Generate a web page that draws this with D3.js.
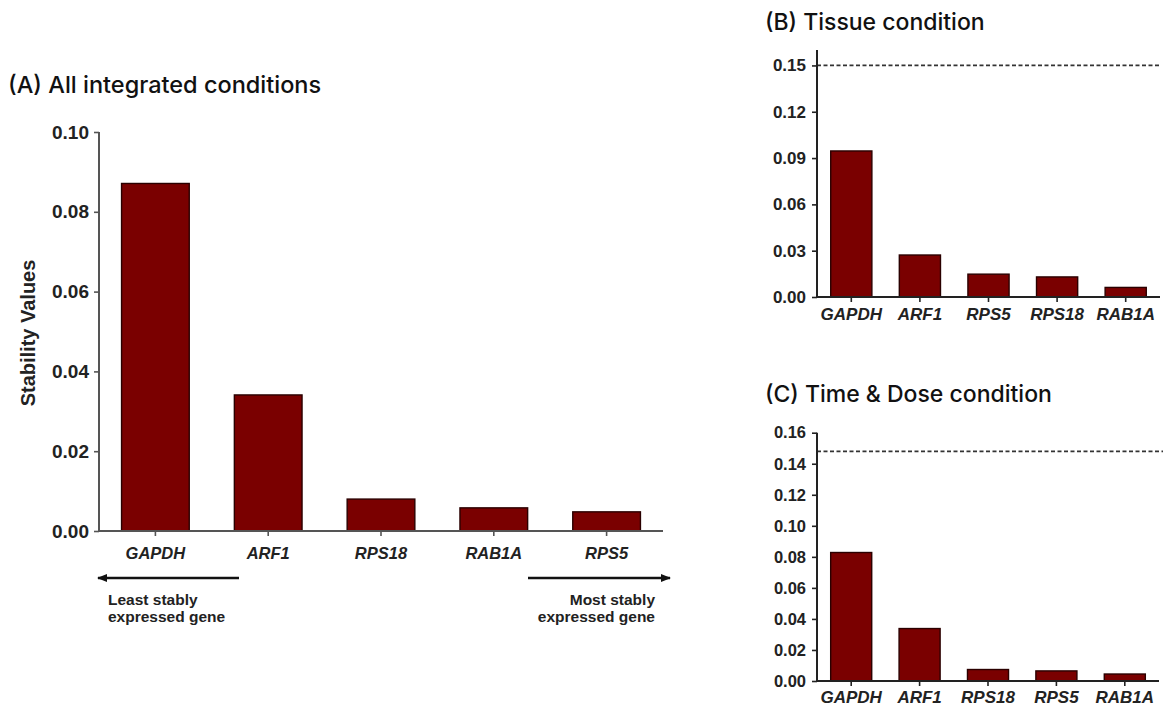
<!DOCTYPE html>
<html>
<head>
<meta charset="utf-8">
<script src="https://cdn.jsdelivr.net/npm/d3@7"></script>
<style>
  html, body { margin: 0; padding: 0; background: #fff; }
  svg { display: block; }
  .title { font-family: Inter, "Liberation Sans", Arial, sans-serif; font-weight: 500; fill: #111; }
  .tick text { font-family: "Liberation Sans", Arial, sans-serif; font-weight: 700; fill: #222; }
  .gene { font-family: "Liberation Sans", Arial, sans-serif; font-weight: 700; font-style: italic; fill: #222; }
  .note { font-family: "Liberation Sans", Arial, sans-serif; font-weight: 700; fill: #222; }
</style>
</head>
<body>
<svg id="fig" width="1165" height="709"></svg>
<script>
// Stability values per reference gene
const genesA = ["GAPDH", "ARF1", "RPS18", "RAB1A", "RPS5"];
const valuesA = [0.0871, 0.0341, 0.0080, 0.0058, 0.0048];
const ticksA = [0.00, 0.02, 0.04, 0.06, 0.08, 0.10];

const genesB = ["GAPDH", "ARF1", "RPS5", "RPS18", "RAB1A"];
const valuesB = [0.0946, 0.0272, 0.0148, 0.0130, 0.0062];
const ticksB = [0.00, 0.03, 0.06, 0.09, 0.12, 0.15];
const cutoffB = 0.15;

const genesC = ["GAPDH", "ARF1", "RPS18", "RPS5", "RAB1A"];
const valuesC = [0.0828, 0.0338, 0.0074, 0.0065, 0.0045];
const ticksC = [0.00, 0.02, 0.04, 0.06, 0.08, 0.10, 0.12, 0.14, 0.16];
const cutoffC = 0.148;

const svg = d3.select("#fig");
const fmt = d3.format(".2f");
const BAR_FILL = "#7a0000";
const BAR_STROKE = "#2a0000";

function panel(o) {
  const g = svg.append("g");
  const x = d3.scaleBand().domain(o.genes).range([o.x0, o.x1])
    .paddingInner(0.4).paddingOuter(0.2);
  const y = d3.scaleLinear().domain([0, o.ymax]).range([o.y0, o.y1]);

  // title
  g.append("text").attr("class", "title")
    .attr("x", o.titleX).attr("y", o.titleY)
    .style("font-size", o.titleSize + "px")
    .text(o.title);

  // cut-off line
  if (o.cutoff != null) {
    g.append("line")
      .attr("x1", o.x0).attr("x2", o.dashEnd)
      .attr("y1", y(o.cutoff)).attr("y2", y(o.cutoff))
      .attr("stroke", "#333").attr("stroke-width", 1.8)
      .attr("stroke-dasharray", "4,2.5");
  }

  // bars
  g.selectAll("rect.bar").data(o.values).join("rect")
    .attr("class", "bar")
    .attr("x", (d, i) => x(o.genes[i]))
    .attr("width", x.bandwidth())
    .attr("y", d => y(d))
    .attr("height", d => y(0) - y(d))
    .attr("fill", BAR_FILL)
    .attr("stroke", BAR_STROKE)
    .attr("stroke-width", 1.4);

  // y axis
  const ya = g.append("g").attr("transform", `translate(${o.x0},0)`)
    .call(d3.axisLeft(y).tickValues(o.ticks).tickFormat(fmt).tickSize(5).tickPadding(o.tickPad));
  ya.select(".domain").attr("d", `M0,${o.y1}V${o.y0}`)
    .attr("stroke", o.axisColor).attr("stroke-width", 2);
  ya.selectAll(".tick line").attr("stroke", o.axisColor).attr("stroke-width", 1.6);
  ya.selectAll(".tick text").style("font-size", o.tickSize + "px");

  // x axis
  const xa = g.append("g").attr("transform", `translate(0,${o.y0})`)
    .call(d3.axisBottom(x).tickSize(5).tickFormat(""));
  xa.select(".domain").attr("d", `M${o.x0},0H${o.x1}`)
    .attr("stroke", o.axisColor).attr("stroke-width", 2);
  xa.selectAll(".tick line").attr("stroke", o.axisColor).attr("stroke-width", 1.6);

  g.selectAll("text.gene").data(o.genes).join("text")
    .attr("class", "gene")
    .attr("x", d => x(d) + x.bandwidth() / 2)
    .attr("y", o.labelY)
    .attr("text-anchor", "middle")
    .style("font-size", o.labelSize + "px")
    .text(d => d);

  return { g, x, y };
}

// (A) all integrated conditions
const A = panel({
  genes: genesA, values: valuesA, ticks: ticksA, ymax: 0.10,
  x0: 99, x1: 663, y0: 531, y1: 132,
  title: "(A) All integrated conditions", titleX: 8, titleY: 93, titleSize: 23.5,
  tickSize: 19, tickPad: 5, labelSize: 16.5, labelY: 559, axisColor: "#555"
});

A.g.append("text")
  .attr("transform", "translate(35,333) rotate(-90)")
  .attr("text-anchor", "middle")
  .style("font-family", "\"Liberation Sans\", Arial, sans-serif")
  .style("font-weight", 700)
  .style("font-size", "20px")
  .style("fill", "#222")
  .text("Stability Values");

// direction arrows beneath the gene axis
const defs = svg.append("defs");
defs.append("marker").attr("id", "head")
  .attr("viewBox", "0 0 10 10").attr("refX", 9).attr("refY", 5)
  .attr("markerWidth", 10).attr("markerHeight", 10)
  .attr("markerUnits", "userSpaceOnUse")
  .attr("orient", "auto")
  .append("path").attr("d", "M0,1L10,5L0,9Z").attr("fill", "#111");

const arrowY = 578;
A.g.append("line").attr("x1", 239).attr("x2", 98)
  .attr("y1", arrowY).attr("y2", arrowY)
  .attr("stroke", "#111").attr("stroke-width", 2.5).attr("marker-end", "url(#head)");
A.g.append("line").attr("x1", 528).attr("x2", 670)
  .attr("y1", arrowY).attr("y2", arrowY)
  .attr("stroke", "#111").attr("stroke-width", 2.5).attr("marker-end", "url(#head)");

const left = A.g.append("text").attr("class", "note").style("font-size", "15.5px");
left.append("tspan").attr("x", 108).attr("y", 605).text("Least stably");
left.append("tspan").attr("x", 108).attr("y", 622).text("expressed gene");
const right = A.g.append("text").attr("class", "note").style("font-size", "15.5px")
  .attr("text-anchor", "end");
right.append("tspan").attr("x", 655).attr("y", 605).text("Most stably");
right.append("tspan").attr("x", 655).attr("y", 622).text("expressed gene");

// (B) tissue condition
panel({
  genes: genesB, values: valuesB, ticks: ticksB, ymax: 0.16, cutoff: cutoffB,
  x0: 817, x1: 1160, y0: 297, y1: 50, dashEnd: 1160,
  title: "(B) Tissue condition", titleX: 765, titleY: 30, titleSize: 23,
  tickSize: 17, tickPad: 6, labelSize: 17, labelY: 320, axisColor: "#222"
});

// (C) time & dose condition
panel({
  genes: genesC, values: valuesC, ticks: ticksC, ymax: 0.16, cutoff: cutoffC,
  x0: 817, x1: 1159, y0: 681, y1: 432.7, dashEnd: 1163,
  title: "(C) Time & Dose condition", titleX: 765, titleY: 402, titleSize: 23,
  tickSize: 16.5, tickPad: 6, labelSize: 17, labelY: 703, axisColor: "#222"
});
</script>
</body>
</html>
